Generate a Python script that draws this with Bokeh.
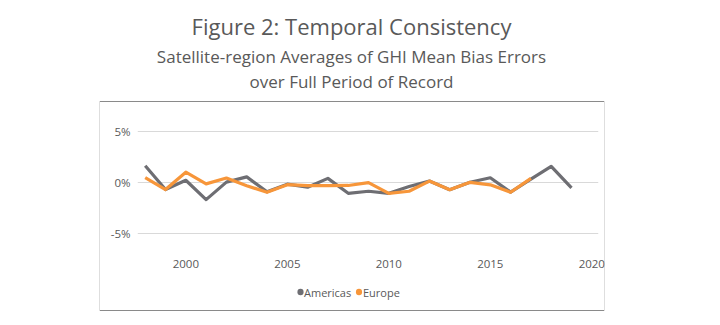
from bokeh.plotting import figure
from bokeh.models import (Label, FixedTicker, CustomJSTickFormatter,
                          Range1d, ColumnDataSource)
from bokeh.embed import file_html
from bokeh.resources import INLINE

# ---- data (percent) ----
years_americas = list(range(1998, 2020))
americas = [1.65, -0.68, 0.23, -1.67, 0.05, 0.56, -0.9, -0.15, -0.45, 0.42, -1.05,
            -0.85, -1.05, -0.38, 0.15, -0.7, 0.03, 0.48, -0.93, 0.35, 1.6, -0.52]
years_europe = list(range(1998, 2018))
europe = [0.5, -0.68, 1.02, -0.12, 0.45, -0.3, -0.95, -0.2, -0.3, -0.3, -0.28,
          0.0, -1.05, -0.85, 0.15, -0.7, 0.03, -0.22, -0.95, 0.42]
x_ticks = [2000, 2005, 2010, 2015, 2020]
y_ticks = [-5, 0, 5]
title_text = "Figure 2: Temporal Consistency"
subtitle_lines = ["Satellite-region Averages of GHI Mean Bias Errors",
                  "over Full Period of Record"]
series_names = ["Americas", "Europe"]

GRAY = "#6e6e73"
ORANGE = "#f7963a"
TXT = "#595959"
BORDER = "#8a8a8a"
FONT = "Open Sans"

p = figure(frame_width=461, frame_height=131, output_backend="svg", toolbar_location=None,
           x_range=Range1d(1997.62, 2020.33), y_range=Range1d(-6.86, 6.0),
           min_border_left=137, min_border_right=122, min_border_top=121,
           min_border_bottom=73)
p.outline_line_color = None
p.background_fill_color = "white"
p.border_fill_color = "white"

p.xgrid.grid_line_color = None
p.ygrid.grid_line_color = "#d9d9d9"
p.ygrid.grid_line_width = 1

p.xaxis.ticker = FixedTicker(ticks=x_ticks)
p.yaxis.ticker = FixedTicker(ticks=y_ticks)
p.yaxis.formatter = CustomJSTickFormatter(code="return tick + '%';")
for ax in (p.xaxis, p.yaxis):
    ax.axis_line_color = None
    ax.major_tick_line_color = None
    ax.minor_tick_line_color = None
    ax.major_tick_out = 0
    ax.major_tick_in = 0
    ax.minor_tick_out = 0
    ax.major_label_text_font = FONT
    ax.major_label_text_font_size = "11.5px"
    ax.major_label_text_color = TXT
    ax.major_label_standoff = 7

src_a = ColumnDataSource(dict(x=years_americas, y=americas))
src_e = ColumnDataSource(dict(x=years_europe, y=europe))

p.line("x", "y", source=src_a, line_color=GRAY, line_width=3.2, line_join="round")
p.line("x", "y", source=src_e, line_color=ORANGE, line_width=3.2, line_join="round")

# legend (dots + names) as labels placed in side panels so they are not clipped
def dot(x, y, color):
    return Label(x=x, y=y, x_units="canvas", y_units="canvas", text=" ",
                 text_font_size="0.5px", text_align="center", text_baseline="middle",
                 padding=(3, 3), border_radius=3, border_line_color=None,
                 background_fill_color=color)

def name(x, y, t):
    return Label(x=x, y=y, x_units="canvas", y_units="canvas", text=t,
                 text_font=FONT, text_font_size="11px", text_color=TXT,
                 text_align="left", text_baseline="middle")

p.add_layout(dot(300, 291.5, GRAY), "left")
p.add_layout(dot(358.5, 291.5, ORANGE), "left")
p.add_layout(name(303.5, 291.5, series_names[0]), "right")
p.add_layout(name(362.5, 291.5, series_names[1]), "right")

# chart border box: four thin padded labels in side panels (not clipped to the frame)
def edge(x, y, pad):
    return Label(x=x, y=y, x_units="canvas", y_units="canvas", text=" ",
                 text_font_size="1px", text_align="center", text_baseline="middle",
                 padding=pad, border_line_color=None, background_fill_color=BORDER)

p.add_layout(edge(351.5, 101, (252, 0)), "above")
p.add_layout(edge(351.5, 310, (252, 0)), "above")
p.add_layout(edge(99, 205.5, (0, 104)), "left")
p.add_layout(edge(604, 205.5, (0, 104)), "right")

p.add_layout(Label(x=351, y=25, x_units="canvas", y_units="canvas", text=title_text,
                   text_font=FONT, text_font_size="22px", text_color=TXT,
                   text_align="center", text_baseline="alphabetic"), "above")
for t, yy in zip(subtitle_lines, [56, 81]):
    p.add_layout(Label(x=351, y=yy, x_units="canvas", y_units="canvas", text=t,
                       text_font=FONT, text_font_size="17px", text_color=TXT,
                       text_align="center", text_baseline="alphabetic"), "above")

open("out.html", "w").write(file_html(p, INLINE))
